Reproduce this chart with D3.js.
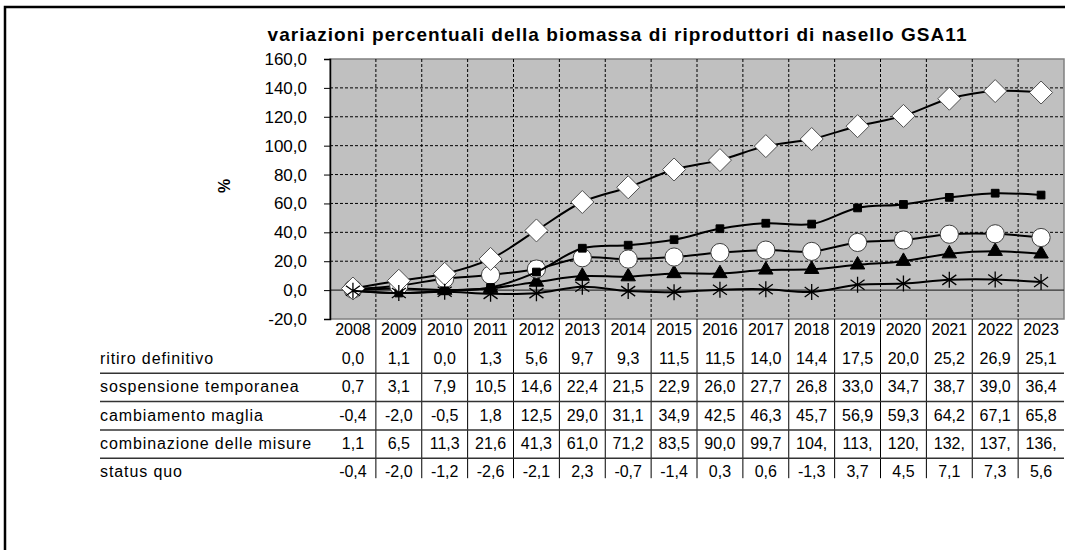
<!DOCTYPE html>
<html>
<head>
<meta charset="utf-8">
<script src="https://cdn.jsdelivr.net/npm/d3@7"></script>
<style>
  body { margin: 0; background: #fff; }
  text { font-family: "Liberation Sans", Arial, sans-serif; fill: #000; }
</style>
</head>
<body>
<div id="chart"></div>
<script>

var years = ["2008", "2009", "2010", "2011", "2012", "2013", "2014", "2015", "2016", "2017", "2018", "2019", "2020", "2021", "2022", "2023"]
var yTicks = [-20, 0, 20, 40, 60, 80, 100, 120, 140, 160]

var ritiro = [0.0, 1.1, 0.0, 1.3, 5.6, 9.7, 9.3, 11.5, 11.5, 14.0, 14.4, 17.5, 20.0, 25.2, 26.9, 25.1]
var sospensione = [0.7, 3.1, 7.9, 10.5, 14.6, 22.4, 21.5, 22.9, 26.0, 27.7, 26.8, 33.0, 34.7, 38.7, 39.0, 36.4]
var cambiamento = [-0.4, -2.0, -0.5, 1.8, 12.5, 29.0, 31.1, 34.9, 42.5, 46.3, 45.7, 56.9, 59.3, 64.2, 67.1, 65.8]
// last six, the table cells are clipped ("104," ...)
var combinazione = [1.1, 6.5, 11.3, 21.6, 41.3, 61.0, 71.2, 83.5, 90.0, 99.7, 104.6, 113.5, 120.6, 132.5, 137.8, 136.8]
var statusQuo = [-0.4, -2.0, -1.2, -2.6, -2.1, 2.3, -0.7, -1.4, 0.3, 0.6, -1.3, 3.7, 4.5, 7.1, 7.3, 5.6]

var series = [
  { name: "ritiro definitivo", values: ritiro, marker: "triangle" },
  { name: "sospensione temporanea", values: sospensione, marker: "circle" },
  { name: "cambiamento maglia", values: cambiamento, marker: "square" },
  { name: "combinazione delle misure", values: combinazione, marker: "diamond" },
  { name: "status quo", values: statusQuo, marker: "star" }
]

var plot = { left: 330, right: 1064, top: 59, bottom: 319 }
var tableTop = 345
var rowH = 28.3

var x = d3.scaleBand()
  .domain(years)
  .range([plot.left, plot.right])

var y = d3.scaleLinear()
  .domain([-20, 160])
  .range([plot.bottom, plot.top])

var it = d3.formatLocale({ decimal: ",", thousands: ".", grouping: [3], currency: ["", ""], minus: "-" })
var fmt = it.format(".1f")

var svg = d3.select("#chart").append("svg")
  .attr("width", 1065)
  .attr("height", 550)

// outer frame (runs off the right and bottom edges)
svg.append("rect")
  .attr("x", 5).attr("y", 7)
  .attr("width", 1200).attr("height", 700)
  .attr("fill", "none")
  .attr("stroke", "#000")
  .attr("stroke-width", 2.5)

svg.append("text")
  .attr("x", 617)
  .attr("y", 41)
  .attr("text-anchor", "middle")
  .attr("font-size", 19)
  .attr("font-weight", "bold")
  .attr("textLength", 699)
  .attr("lengthAdjust", "spacing")
  .text("variazioni percentuali della biomassa di riproduttori di nasello GSA11")

svg.append("text")
  .attr("transform", "translate(230,186) rotate(-90)")
  .attr("text-anchor", "middle")
  .attr("font-size", 16)
  .attr("font-weight", "bold")
  .text("%")

// plot area
svg.append("rect")
  .attr("x", plot.left)
  .attr("y", plot.top)
  .attr("width", plot.right - plot.left)
  .attr("height", plot.bottom - plot.top)
  .attr("fill", "#c0c0c0")
  .attr("stroke", "#808080")
  .attr("stroke-width", 1.5)

svg.selectAll(".hgrid")
  .data(yTicks.filter(d => d > 0 && d < 160))
  .enter().append("line")
  .attr("x1", plot.left).attr("x2", plot.right)
  .attr("y1", d => y(d)).attr("y2", d => y(d))
  .attr("stroke", "#000")
  .attr("stroke-dasharray", "3,2")

svg.selectAll(".vgrid")
  .data(years.slice(1))
  .enter().append("line")
  .attr("x1", d => x(d)).attr("x2", d => x(d))
  .attr("y1", plot.top).attr("y2", plot.bottom)
  .attr("stroke", "#000")
  .attr("stroke-dasharray", "3,2")

// category axis sits on zero
svg.append("line")
  .attr("x1", plot.left).attr("x2", plot.right)
  .attr("y1", y(0)).attr("y2", y(0))
  .attr("stroke", "#333")
  .attr("stroke-width", 1.2)

var yAxis = svg.append("g")
  .attr("transform", "translate(" + plot.left + ",0)")
  .call(d3.axisLeft(y).tickValues(yTicks).tickSize(6).tickPadding(17).tickFormat(fmt))
yAxis.select(".domain").attr("stroke", "#000").attr("stroke-width", 1.5)
yAxis.selectAll(".tick line").attr("stroke", "#000")
yAxis.selectAll("text")
  .attr("font-size", 17)
  .style("font-family", "'Liberation Sans', Arial, sans-serif")

// data table
svg.selectAll(".tcol")
  .data(years.slice(1))
  .enter().append("line")
  .attr("x1", d => x(d)).attr("x2", d => x(d))
  .attr("y1", plot.bottom).attr("y2", tableTop + 4 * rowH + 20)
  .attr("stroke", "#000")

svg.selectAll(".trow")
  .data(series.slice(0, 4))
  .enter().append("line")
  .attr("x1", 100).attr("x2", plot.right)
  .attr("y1", (d, i) => tableTop + rowH * (i + 1))
  .attr("y2", (d, i) => tableTop + rowH * (i + 1))
  .attr("stroke", "#333")
  .attr("stroke-width", 1.5)

svg.selectAll(".year")
  .data(years)
  .enter().append("text")
  .attr("x", d => x(d) + x.bandwidth() / 2)
  .attr("y", 335)
  .attr("text-anchor", "middle")
  .attr("font-size", 16)
  .text(d => d)

var rows = svg.selectAll(".row")
  .data(series)
  .enter().append("g")
  .attr("transform", (d, i) => "translate(0," + (tableTop + rowH * i + rowH / 2 + 5) + ")")

rows.append("text")
  .attr("x", 100)
  .attr("font-size", 16)
  .attr("letter-spacing", 0.9)
  .text(d => d.name)

rows.selectAll(".val")
  .data(d => d.values)
  .enter().append("text")
  .attr("x", (d, i) => x(years[i]) + x.bandwidth() / 2)
  .attr("text-anchor", "middle")
  .attr("font-size", 16)
  // narrow cells clip the text the way the spreadsheet does
  .text(d => fmt(d).slice(0, 4))

// lines and markers
var line = d3.line()
  .x((d, i) => x(years[i]) + x.bandwidth() / 2)
  .y(d => y(d))
  .curve(d3.curveCatmullRom.alpha(0.5))

var markerPath = {
  triangle: d3.symbol().type(d3.symbolTriangle).size(90)(),
  circle: d3.symbol().type(d3.symbolCircle).size(260)(),
  square: d3.symbol().type(d3.symbolSquare).size(60)(),
  diamond: "M0,-11.5L11.5,0L0,11.5L-11.5,0Z",
  star: "M0,-8V8M-7,-5L7,5M-7,5L7,-5"
}
var markerFill = { triangle: "#000", circle: "#fff", square: "#000", diamond: "#fff", star: "none" }
var markerStroke = { triangle: "#000", circle: "#404040", square: "#000", diamond: "#505050", star: "#000" }

series.forEach(function (s) {
  svg.append("path")
    .datum(s.values)
    .attr("d", line)
    .attr("fill", "none")
    .attr("stroke", "#000")
    .attr("stroke-width", 2)

  svg.selectAll(".m-" + s.marker)
    .data(s.values)
    .enter().append("path")
    .attr("transform", (d, i) => "translate(" + (x(years[i]) + x.bandwidth() / 2) + "," + y(d) + ")")
    .attr("d", markerPath[s.marker])
    .attr("fill", markerFill[s.marker])
    .attr("stroke", markerStroke[s.marker])
    .attr("stroke-width", s.marker == "star" ? 1.3 : 1)
})

</script>
</body>
</html>
